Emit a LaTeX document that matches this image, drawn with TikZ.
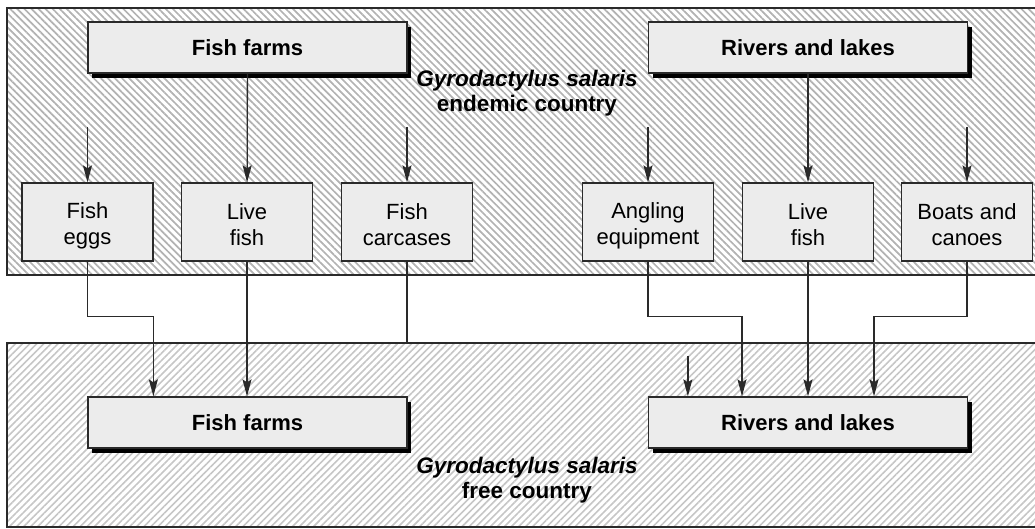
\documentclass[tikz,border=0pt]{standalone}
\usepackage{fontspec}
\setmainfont{Liberation Sans}
\usetikzlibrary{arrows.meta}
\usetikzlibrary{shadows}
\usetikzlibrary{patterns.meta}
\usetikzlibrary{calc,positioning}
\usepackage{xcolor}
\definecolor{boxgray}{HTML}{ECECEC}
\definecolor{inkgray}{HTML}{2A2A2A}
\newcommand{\boxstrut}{\rule[-2pt]{0pt}{26pt}}
\newcommand{\twolines}[2]{\boxstrut #1\\\boxstrut #2}
\newcommand{\tightlines}{\lineskiplimit=-20pt\relax}

\begin{document}
\begin{tikzpicture}[x=1pt,y=-1pt,line width=1.3pt]
      \tikzstyle{every node}=[inner sep=0pt]
      \tikzstyle{bigbox}=[draw=inkgray,fill=boxgray,minimum width=319pt,minimum height=51pt,
        font=\fontsize{22}{25}\selectfont\bfseries,
        drop shadow={shadow xshift=4pt,shadow yshift=-5pt,opacity=1,fill=black}]
      \tikzstyle{smallbox}=[draw=inkgray,fill=boxgray,minimum width=131pt,minimum height=78pt,
        align=center,font=\fontsize{22}{26}\selectfont\tightlines]
      \tikzstyle{zonelabel}=[align=center,font=\fontsize{22.5}{25}\selectfont\bfseries]
      \tikzstyle{arr}=[draw=inkgray,-{Stealth[length=17pt,width=9pt,inset=3pt]}]
      \useasboundingbox (0,0) rectangle (1035,529);

      % the two countries
      \path[pattern={Lines[angle=-45,distance=5pt,line width=1.7pt]},pattern color=gray!60]
        (7,8) rectangle (1035,275);
      \draw[inkgray] (1035,8) -- (7,8) -- (7,275) -- (1035,275);
      \path[pattern={Lines[angle=45,distance=5pt,line width=1.6pt]},pattern color=gray!45]
        (7,343) rectangle (1035,527);
      \draw[inkgray] (1035,343) -- (7,343) -- (7,527) -- (1035,527);
      \coordinate (freetop) at (7,343);

      \node[zonelabel] (endemic) at (527,93) {\textit{Gyrodactylus salaris}\\endemic country};
      \node[zonelabel] (free)    at (527,480) {\textit{Gyrodactylus salaris}\\free country};

      % sources
      \node[bigbox] (farmsA)  at (247.5,47.5) {Fish farms};
      \node[bigbox] (riversA) at (808,47.5)   {Rivers and lakes};

      \node[smallbox] (eggs)    at (87.5,222) {\twolines{Fish}{eggs}};
      \node[smallbox] (fishA)   at (247,222)  {\twolines{Live}{fish}};
      \node[smallbox] (carc)    at (407,222)  {\twolines{Fish}{carcases}};
      \node[smallbox] (angling) at (648,222)  {\twolines{Angling}{equipment}};
      \node[smallbox] (fishB)   at (808,222)  {\twolines{Live}{fish}};
      \node[smallbox] (boats)   at (967,222)  {\twolines{Boats and}{canoes}};

      % receivers
      \node[bigbox] (farmsB)  at (247.5,422.5) {Fish farms};
      \node[bigbox] (riversB) at (808,422.5)   {Rivers and lakes};

      \draw[arr] (farmsA) -- (fishA);
      \draw[arr] (riversA) -- (fishB);
      \draw[arr] ($(eggs.north)+(0,-55)$) -- (eggs);
      \draw[arr] ($(carc.north)+(0,-55)$) -- (carc);
      \draw[arr] ($(angling.north)+(0,-55)$) -- (angling);
      \draw[arr] ($(boats.north)+(0,-55)$) -- (boats);

      \draw[arr] (eggs.south) -- ++(0,55) -| ([xshift=66pt]farmsB.north west);
      \draw[arr] (fishA) -- (farmsB.north -| fishA);
      \draw[inkgray] (carc.south) -- (carc.south |- freetop);
      \draw[arr] (angling.south) -- ++(0,55) -| ([xshift=-66pt]riversB.north);
      \draw[arr] (fishB) -- (riversB);
      \draw[arr] (boats.south) -- ++(0,55) -| ([xshift=66pt]riversB.north);
      \draw[arr] ($(riversB.north west)+(40,-40)$) -- ([xshift=40pt]riversB.north west);
    \end{tikzpicture}
\end{document}
